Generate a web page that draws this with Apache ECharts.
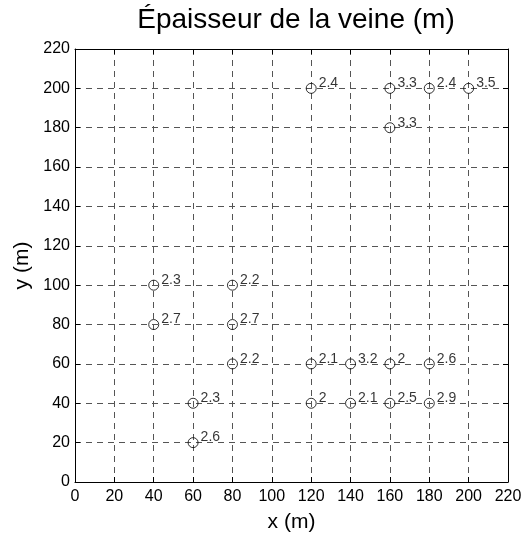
<!DOCTYPE html>
<html>
<head>
<meta charset="utf-8">
<script src="https://cdn.jsdelivr.net/npm/echarts@6/dist/echarts.min.js"></script>
<style>
  html, body { margin: 0; padding: 0; background: #fff; }
  #chart { width: 522px; height: 533px; }
</style>
</head>
<body>
<div id="chart"></div>
<script>
// positions des forages (m) et épaisseur mesurée (m)
const xPos = [120, 160, 180, 200, 160, 40, 80, 40, 80, 80, 120, 140, 160, 180, 60, 120, 140, 160, 180, 60]
const yPos = [200, 200, 200, 200, 180, 100, 100, 80, 80, 60, 60, 60, 60, 60, 40, 40, 40, 40, 40, 20]
const thickness = [2.4, 3.3, 2.4, 3.5, 3.3, 2.3, 2.2, 2.7, 2.7, 2.2, 2.1, 3.2, 2, 2.6, 2.3, 2, 2.1, 2.5, 2.9, 2.6]
const axisTicks = [0, 20, 40, 60, 80, 100, 120, 140, 160, 180, 200, 220]

const font = 'Liberation Sans, Arial, sans-serif'
const chart = echarts.init(document.getElementById('chart'))

const points = xPos.map((x, i) => [x, yPos[i], thickness[i]])

const mainAxis = (name, gap, margin) => ({
  type: 'value',
  min: axisTicks[0],
  max: axisTicks[axisTicks.length - 1],
  interval: axisTicks[1] - axisTicks[0],
  name: name,
  nameLocation: 'middle',
  nameGap: gap,
  nameTextStyle: { color: '#000', fontSize: 21, fontFamily: font },
  axisLine: { show: true, onZero: false, lineStyle: { color: '#000', width: 1 } },
  axisTick: { show: true, inside: true, length: 5, lineStyle: { color: '#000' } },
  axisLabel: { color: '#000', fontSize: 16, fontFamily: font, margin: margin },
  splitLine: {
    show: true,
    lineStyle: { color: '#555', type: [6, 5], width: 1 }
  }
})

const boxAxis = () => ({
  type: 'value',
  min: axisTicks[0],
  max: axisTicks[axisTicks.length - 1],
  interval: axisTicks[1] - axisTicks[0],
  axisLine: { show: true, onZero: false, lineStyle: { color: '#000', width: 1 } },
  axisTick: { show: true, inside: true, length: 5, lineStyle: { color: '#000' } },
  axisLabel: { show: false },
  splitLine: { show: false }
})

const option = {
  animation: false,
  backgroundColor: '#fff',
  title: {
    text: 'Épaisseur de la veine (m)',
    left: 291,
    textAlign: 'center',
    top: 1,
    textStyle: { color: '#000', fontSize: 28, fontWeight: 'normal', fontFamily: font }
  },
  grid: { left: 75, right: 14, top: 49, bottom: 51, containLabel: false, outerBoundsMode: 'none' },
  xAxis: [
    Object.assign(mainAxis('x (m)', 30, 7), { position: 'bottom' }),
    Object.assign(boxAxis(), { position: 'top' })
  ],
  yAxis: [
    Object.assign(mainAxis('y (m)', 42, 5), { position: 'left' }),
    Object.assign(boxAxis(), { position: 'right' })
  ],
  series: [
    {
      type: 'scatter',
      data: points,
      symbol: 'circle',
      symbolSize: 10,
      itemStyle: { color: 'rgba(0,0,0,0)', borderColor: '#000', borderWidth: 1 },
      label: {
        show: true,
        position: 'right',
        distance: 2,
        offset: [0, -5],
        formatter: p => String(p.value[2]),
        color: '#000',
        fontSize: 14,
        fontFamily: font
      },
      z: 5
    }
  ]
}

chart.setOption(option)
</script>
</body>
</html>
